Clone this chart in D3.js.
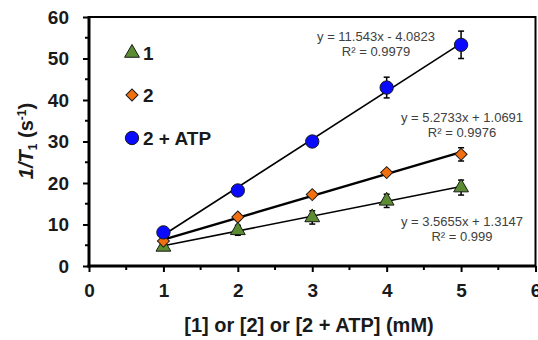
<!DOCTYPE html>
<html>
<head>
<meta charset="utf-8">
<script src="https://cdn.jsdelivr.net/npm/d3@7"></script>
<style>
  html, body { margin: 0; padding: 0; background: #fff; }
  svg { display: block; font-family: Arial, 'Liberation Sans', sans-serif; }
</style>
</head>
<body>
<div id="chart"></div>
<script>
// data
const conc = [1, 2, 3, 4, 5];
const rate1 = [4.6, 8.6, 11.7, 15.7, 18.9];
const err1 = [0.6, 1.2, 1.6, 1.6, 1.8];
const rate2 = [6.0, 11.8, 17.2, 22.5, 26.9];
const err2 = [0.5, 0.8, 0.7, 0.6, 1.6];
const rateAtp = [8.1, 18.2, 30.0, 43.0, 53.3];
const errAtp = [0.6, 0.8, 0.6, 2.5, 3.3];

const fits = [
  { key: 'atp', slope: 11.543, icpt: -4.0823, eq: 'y = 11.543x - 4.0823', r2: 'R² = 0.9979' },
  { key: 'two', slope: 5.2733, icpt: 1.0691, eq: 'y = 5.2733x + 1.0691', r2: 'R² = 0.9976' },
  { key: 'one', slope: 3.5655, icpt: 1.3147, eq: 'y = 3.5655x + 1.3147', r2: 'R² = 0.999' }
];

const xTicks = [0, 1, 2, 3, 4, 5, 6];
const yTicks = [0, 10, 20, 30, 40, 50, 60];
const legendLabels = ['1', '2', '2 + ATP'];

const GREEN = '#5b8c32';
const ORANGE = '#f26f10';
const BLUE = '#0a0aff';
const TEXT = '#404040';

const w = 538;
const h = 340;
const margin = { top: 17, right: 2, bottom: 74, left: 89 };

const x = d3.scaleLinear().domain([0, 6]).range([margin.left, w - margin.right - 0.5]);
const y = d3.scaleLinear().domain([0, 60]).range([h - margin.bottom, margin.top]);

const svg = d3.select('#chart').append('svg').attr('width', w).attr('height', h);

// frame (top and right)
svg.append('path')
  .attr('d', `M${x(0)},${y(60)}H${x(6)}V${y(0)}`)
  .attr('fill', 'none')
  .attr('stroke', '#000')
  .attr('stroke-width', 2);

// minor ticks
const yMinor = d3.range(5, 60, 10);
const xMinor = d3.range(0.5, 6, 1);
svg.append('g').selectAll('line').data(yMinor).join('line')
  .attr('x1', x(0) - 4).attr('x2', x(0))
  .attr('y1', (d) => y(d)).attr('y2', (d) => y(d))
  .attr('stroke', '#000').attr('stroke-width', 2);
svg.append('g').selectAll('line').data(xMinor).join('line')
  .attr('x1', (d) => x(d)).attr('x2', (d) => x(d))
  .attr('y1', y(0)).attr('y2', y(0) + 4)
  .attr('stroke', '#000').attr('stroke-width', 2);

// axes
const yAxis = svg.append('g')
  .attr('transform', `translate(${x(0)},0)`)
  .call(d3.axisLeft(y).tickValues(yTicks).tickFormat(d3.format('d')).tickSize(6).tickPadding(14));
const xAxis = svg.append('g')
  .attr('transform', `translate(0,${y(0)})`)
  .call(d3.axisBottom(x).tickValues(xTicks).tickFormat(d3.format('d')).tickSize(6).tickPadding(12));

[yAxis, xAxis].forEach((g) => {
  g.select('.domain').remove();
  g.selectAll('.tick line').attr('stroke', '#000').attr('stroke-width', 2);
  g.selectAll('.tick text')
    .attr('fill', '#1a1a1a')
    .attr('font-size', 19)
    .attr('font-weight', 700)
    .attr('font-family', 'Arial, Liberation Sans, sans-serif');
});

svg.append('line')
  .attr('x1', x(0)).attr('x2', x(0))
  .attr('y1', y(60) - 1).attr('y2', y(0) + 1.5)
  .attr('stroke', '#000').attr('stroke-width', 3);
svg.append('line')
  .attr('x1', x(0) - 1.5).attr('x2', x(6))
  .attr('y1', y(0)).attr('y2', y(0))
  .attr('stroke', '#000').attr('stroke-width', 3);

// trend lines
const lineW = { atp: 1.6, two: 2.4, one: 1.6 };
fits.forEach((f) => {
  svg.append('line')
    .attr('x1', x(1)).attr('y1', y(f.slope * 1 + f.icpt))
    .attr('x2', x(5)).attr('y2', y(f.slope * 5 + f.icpt))
    .attr('stroke', '#000')
    .attr('stroke-width', lineW[f.key]);
});

const series = [
  { vals: rate1, errs: err1, color: GREEN, sym: d3.symbolTriangle, size: 95, rot: 0 },
  { vals: rate2, errs: err2, color: ORANGE, sym: d3.symbolSquare, size: 72, rot: 45 },
  { vals: rateAtp, errs: errAtp, color: BLUE, sym: d3.symbolCircle, size: 140, rot: 0 }
];

series.forEach((s) => {
  const g = svg.append('g');
  conc.forEach((c, i) => {
    const cx = x(c);
    const y1 = y(s.vals[i] + s.errs[i]);
    const y2 = y(s.vals[i] - s.errs[i]);
    g.append('line').attr('x1', cx).attr('x2', cx).attr('y1', y1).attr('y2', y2)
      .attr('stroke', '#000').attr('stroke-width', 1.5);
    [y1, y2].forEach((yy) => {
      g.append('line').attr('x1', cx - 3).attr('x2', cx + 3).attr('y1', yy).attr('y2', yy)
        .attr('stroke', '#000').attr('stroke-width', 1.5);
    });
  });
  g.selectAll('path.pt')
    .data(conc)
    .join('path')
    .attr('class', 'pt')
    .attr('transform', (c, i) => `translate(${x(c)},${y(s.vals[i])}) rotate(${s.rot})`)
    .attr('d', d3.symbol(s.sym, s.size))
    .attr('fill', s.color)
    .attr('stroke', '#1a1a1a')
    .attr('stroke-width', 1);
});

// equation labels
const eqPos = {
  atp: { x: 376, y: 41 },
  two: { x: 462, y: 122 },
  one: { x: 462, y: 226 }
};
fits.forEach((f) => {
  const p = eqPos[f.key];
  const t = svg.append('text')
    .attr('x', p.x).attr('y', p.y)
    .attr('text-anchor', 'middle')
    .attr('fill', TEXT)
    .attr('font-size', 13);
  t.append('tspan').attr('x', p.x).text(f.eq);
  t.append('tspan').attr('x', p.x).attr('dy', 15).text(f.r2);
});

// legend
const legend = svg.append('g').attr('transform', 'translate(132,0)');
const legendY = [53, 95, 138];
series.forEach((s, i) => {
  legend.append('path')
    .attr('transform', `translate(0,${legendY[i]}) rotate(${s.rot})`)
    .attr('d', d3.symbol(s.sym, s.size))
    .attr('fill', s.color)
    .attr('stroke', '#1a1a1a')
    .attr('stroke-width', 1);
  legend.append('text')
    .attr('x', 11)
    .attr('y', legendY[i] + 6.5)
    .attr('fill', '#1a1a1a')
    .attr('font-size', 19)
    .attr('font-weight', 700)
    .text(legendLabels[i]);
});

// axis titles
const yTitle = svg.append('text')
  .attr('transform', 'translate(33,141) rotate(-90)')
  .attr('text-anchor', 'middle')
  .attr('fill', '#1a1a1a')
  .attr('font-size', 20)
  .attr('font-weight', 700);
yTitle.append('tspan').attr('font-style', 'italic').text('1/T');
yTitle.append('tspan').attr('font-size', 12).attr('dy', 4).text('1');
yTitle.append('tspan').attr('dy', -4).text(' (s');
yTitle.append('tspan').attr('font-size', 12).attr('dy', -7).text('-1');
yTitle.append('tspan').attr('dy', 7).text(')');

svg.append('text')
  .attr('x', 309)
  .attr('y', 332)
  .attr('text-anchor', 'middle')
  .attr('fill', '#1a1a1a')
  .attr('font-size', 20)
  .attr('font-weight', 700)
  .text('[1] or [2] or [2 + ATP] (mM)');
</script>
</body>
</html>
